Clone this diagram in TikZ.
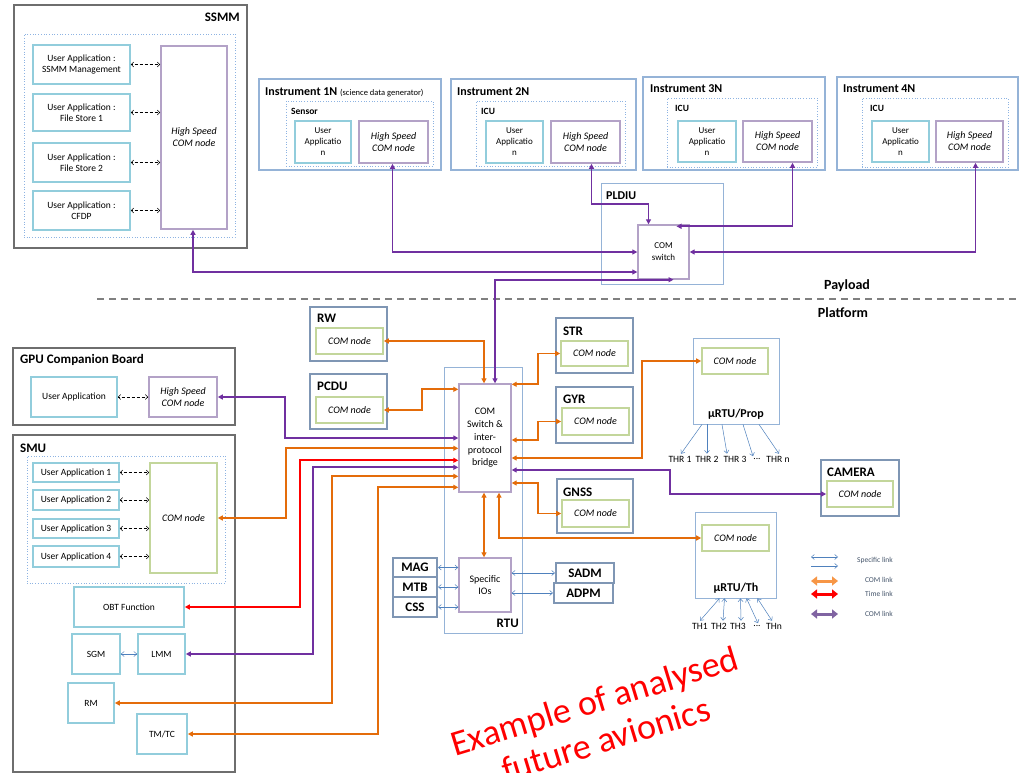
\documentclass[tikz,border=0pt]{standalone}
\usepackage{fontspec}
\setmainfont{Carlito}
\usetikzlibrary{arrows.meta,calc}
\definecolor{cgray}{HTML}{6E6E6E}
\definecolor{ccyan}{HTML}{92CDDC}
\definecolor{cpurp}{HTML}{B3A2C7}
\definecolor{cgreen}{HTML}{C3D69B}
\definecolor{csteel}{HTML}{7F96B4}
\definecolor{clblue}{HTML}{95B3D7}
\definecolor{cdot}{HTML}{8DB3E2}
\definecolor{corange}{HTML}{E46C0A}
\definecolor{cviolet}{HTML}{7030A0}
\definecolor{cspec}{HTML}{4F81BD}
\definecolor{clegtext}{HTML}{44546A}
\definecolor{clegor}{HTML}{F79646}
\definecolor{clegpu}{HTML}{8064A2}
\tikzset{
  rect/.style args={#1,#2,#3,#4}{at={({(#1+#3)/2},{(#2+#4)/2})}, minimum width={(#3-#1)*1pt}, minimum height={(#4-#2)*1pt}, inner sep=0pt},
  box/.style={draw, inner sep=0pt, align=center, font=\fontsize{9.5}{11}\selectfont},
  outerbox/.style={draw=cgray, line width=2.4pt, inner sep=0pt},
  ua/.style={box, draw=ccyan, line width=1.6pt},
  iua/.style={ua, font=\fontsize{9}{11}\selectfont},
  hs/.style={box, draw=cpurp, line width=1.6pt, font=\fontsize{10}{12}\selectfont\itshape},
  cn/.style={box, draw=cgreen, line width=1.6pt, font=\fontsize{10}{12}\selectfont\itshape},
  swbox/.style={box, draw=cpurp, line width=1.4pt, font=\fontsize{10}{12.8}\selectfont},
  unit/.style={draw=csteel, line width=2pt, inner sep=0pt},
  unitt/.style={box, draw=csteel, line width=2pt, font=\fontsize{13}{15}\selectfont\bfseries},
  lbox/.style={draw=clblue, line width=0.8pt, inner sep=0pt},
  ibox/.style={draw=clblue, line width=1.6pt, inner sep=0pt},
  dotbox/.style={draw=cdot, dotted, line width=0.7pt, inner sep=0pt},
  ttl/.style={font=\fontsize{13}{15}\selectfont\bfseries, inner sep=0pt, anchor=west},
  ittl/.style={ttl, font=\fontsize{12}{14}\selectfont\bfseries},
  sttl/.style={ttl, font=\fontsize{9.5}{11}\selectfont\bfseries},
  tip/.tip={Triangle[length=5pt,width=5pt]},
  conn/.style={line width=1.8pt, tip-tip},
  orl/.style={conn, draw=corange},
  pul/.style={conn, draw=cviolet},
  rdl/.style={conn, draw=red},
  spec/.style={draw=cspec, line width=0.5pt, {Straight Barb[length=3pt,width=5pt]}-{Straight Barb[length=3pt,width=5pt]}},
  spec1/.style={draw=cspec, line width=0.5pt, -{Straight Barb[length=3pt,width=5pt]}},
  dda/.style={draw=black, line width=0.5pt, dash pattern=on 2pt off 1.2pt on 0.6pt off 1.2pt, {Straight Barb[length=2.5pt,width=5pt]}-{Straight Barb[length=2.5pt,width=5pt]}},
  lab/.style={inner sep=0pt, font=\fontsize{9.6}{11}\selectfont},
  legt/.style={inner sep=0pt, anchor=east, text=clegtext, font=\fontsize{7.5}{9}\selectfont},
  legl/.style={line width=3pt, {Triangle[length=6pt,width=9pt]}-{Triangle[length=6pt,width=9pt]}}
}
\begin{document}
\begin{tikzpicture}[x=1pt,y=-1pt]
\useasboundingbox (0,0) rectangle (1020,773);
\fill[white] (0,0) rectangle (1020,773);

% ---------- SSMM ----------
\node[outerbox, rect={14,5,247,248}] (ssmm) {};
\node[ttl, anchor=east] (ssmmT) at (240,17) {SSMM};
\node[dotbox, rect={24,34,235,237}] (ssmmD) {};
\node[ua, rect={33,45,130,84}] (sua1) {User Application :\\SSMM Management};
\node[ua, rect={33,94,130,131}] (sua2) {User Application :\\File Store 1};
\node[ua, rect={33,143,130,182}] (sua3) {User Application :\\File Store 2};
\node[ua, rect={33,191,130,230}] (sua4) {User Application :\\CFDP};
\node[hs, rect={161,46,227,229}] (shs) {High Speed\\COM node};
\foreach \i in {1,2,3,4} \draw[dda] (sua\i.east) -- (sua\i.east -| shs.west);

% ---------- Instruments ----------
\node[ibox, rect={259,79,441,170}] (ins1) {};
\node[ittl] (ins1T) at (265,92) {Instrument 1N {\fontsize{8.5}{10}\selectfont\mdseries (science data generator)}};
\node[dotbox, rect={286,101,433,166}] (ins1D) {};
\node[sttl] (ins1S) at (291,111) {Sensor};
\node[iua, rect={295,121,351,163}] (iua1) {User\\Applicatio\\n};
\node[hs, rect={359,121,428,163}] (ihs1) {High Speed\\COM node};

\node[ibox, rect={451,79,636,170}] (ins2) {};
\node[ittl] (ins2T) at (457,92) {Instrument 2N};
\node[dotbox, rect={476,101,625,166}] (ins2D) {};
\node[sttl] (ins2S) at (481,111) {ICU};
\node[iua, rect={486,121,543,163}] (iua2) {User\\Applicatio\\n};
\node[hs, rect={551,121,620,163}] (ihs2) {High Speed\\COM node};

\node[ibox, rect={643,77,825,170}] (ins3) {};
\node[ittl] (ins3T) at (650,89) {Instrument 3N};
\node[dotbox, rect={667,98,817,167}] (ins3D) {};
\node[sttl] (ins3S) at (675,108) {ICU};
\node[iua, rect={678,121,736,162}] (iua3) {User\\Applicatio\\n};
\node[hs, rect={743,121,812,162}] (ihs3) {High Speed\\COM node};

\node[ibox, rect={837,77,1018,170}] (ins4) {};
\node[ittl] (ins4T) at (843,89) {Instrument 4N};
\node[dotbox, rect={862,98,1008,167}] (ins4D) {};
\node[sttl] (ins4S) at (870,108) {ICU};
\node[iua, rect={872,121,929,162}] (iua4) {User\\Applicatio\\n};
\node[hs, rect={936,121,1003,162}] (ihs4) {High Speed\\COM node};

% ---------- PLDIU ----------
\node[lbox, rect={601,183,723,284}] (pldiu) {};
\node[ittl] (pldiuT) at (606,196) {PLDIU};
\node[box, draw=cpurp, line width=1.4pt, font=\fontsize{9}{12}\selectfont, rect={638,225,689,279}] (sw) {COM\\switch};

\draw[pul] ([xshift=-1pt]ihs1.south) |- (sw.west);
\draw[pul] ([xshift=6pt]ihs2.south) -- ++(0,40) -| ([xshift=-15pt]sw.north);
\draw[pul] ([xshift=15pt]ihs3.south) |- ([xshift=13pt,yshift=-2pt]sw.north);
\draw[pul] ([xshift=6pt]ihs4.south) |- (sw.east);
\draw[pul] ([xshift=-1pt]shs.south) |- ([yshift=-20pt]sw.west);

% ---------- divider ----------
\coordinate (dl) at (97,299);
\coordinate (dr) at (1020,299);
\draw[draw=gray, line width=1.6pt, dash pattern=on 7pt off 5pt] (dl) -- (dr);
\node[inner sep=0pt, font=\fontsize{14}{16}\selectfont\bfseries] (payload) at (847,286) {Payload};
\node[inner sep=0pt, font=\fontsize{14}{16}\selectfont\bfseries] (platform) at (843,313) {Platform};

% ---------- RTU ----------
\node[lbox, rect={444,367,522,633}] (rtu) {};
\node[ttl, anchor=east] (rtuT) at (519,623) {RTU};
\node[swbox, rect={459,384,511,492}] (rsw) {COM\\Switch \&\\inter-\\protocol\\bridge};
\node[swbox, rect={459,558,511,612}] (sio) {Specific\\IOs};
\node[unitt, rect={393,558,437,577}] (mag) {MAG};
\node[unitt, rect={393,577,437,597}] (mtb) {MTB};
\node[unitt, rect={393,597,437,617}] (css) {CSS};
\node[unitt, rect={556,563,614,583}] (sadm) {SADM};
\node[unitt, rect={554,583,613,603}] (adpm) {ADPM};
\draw[spec] (mag.east) -- (mag.east -| sio.west);
\draw[spec] (mtb.east) -- (mtb.east -| sio.west);
\draw[spec] (css.east) -- (css.east -| sio.west);
\draw[spec] (sio.east |- sadm.west) -- (sadm.west);
\draw[spec] (sio.east |- adpm.west) -- (adpm.west);

% ---------- RW, PCDU ----------
\node[unit, rect={310,307,387,361}] (rw) {};
\node[ttl] (rwT) at (317,318) {RW};
\node[cn, rect={316,328,383,354}] (rwc) {COM node};
\node[unit, rect={310,374,387,429}] (pcdu) {};
\node[ttl] (pcduT) at (317,386) {PCDU};
\node[cn, rect={316,397,383,423}] (pcc) {COM node};

% ---------- STR, GYR, GNSS ----------
\node[unit, rect={556,318,633,373}] (str) {};
\node[ttl] (strT) at (563,331) {STR};
\node[cn, rect={561,341,628,366}] (strc) {COM node};
\node[unit, rect={556,387,633,443}] (gyr) {};
\node[ttl] (gyrT) at (563,399) {GYR};
\node[cn, rect={562,408,629,435}] (gyrc) {COM node};
\node[unit, rect={557,479,633,533}] (gnss) {};
\node[ttl] (gnssT) at (563,492) {GNSS};
\node[cn, rect={562,500,629,527}] (gnc) {COM node};

% ---------- uRTU/Prop ----------
\node[lbox, rect={693,338,779,424}] (prop) {};
\node[cn, rect={702,348,768,374}] (pcom) {COM node};
\node[inner sep=0pt, font=\fontsize{12}{14}\selectfont\bfseries] (propT) at (736,414) {µRTU/Prop};
\node[lab] (thr1) at (680,459) {THR 1};
\node[lab] (thr2) at (707,459) {THR 2};
\node[lab] (thr3) at (735,459) {THR 3};
\node[lab] (thrd) at (757,459) {...};
\node[lab] (thrn) at (778,459) {THR n};
\draw[spec1] ([xshift=-34pt]prop.south) -- ([xshift=1pt,yshift=2pt]thr1.north);
\draw[spec1] ([xshift=-29pt]prop.south) -- ([yshift=2pt]thr2.north);
\draw[spec1] ([xshift=-14pt]prop.south) -- ([xshift=-8pt,yshift=2pt]thr3.north);
\draw[spec1] ([xshift=7pt]prop.south) -- ([xshift=-4pt,yshift=2pt]thrd.north);
\draw[spec1] ([xshift=23pt]prop.south) -- ([xshift=1pt,yshift=2pt]thrn.north);

% ---------- CAMERA ----------
\node[unit, rect={821,460,899,516}] (cam) {};
\node[ttl] (camT) at (827,472) {CAMERA};
\node[cn, rect={827,481,893,507}] (camc) {COM node};

% ---------- uRTU/Th ----------
\node[lbox, rect={695,512,776,598}] (th) {};
\node[cn, rect={702,525,769,551}] (tcom) {COM node};
\node[inner sep=0pt, font=\fontsize{12}{14}\selectfont\bfseries] (thT) at (736,588) {µRTU/Th};
\node[lab] (th1) at (700,626) {TH1};
\node[lab] (th2) at (719,626) {TH2};
\node[lab] (th3) at (738,626) {TH3};
\node[lab] (thd) at (757,626) {...};
\node[lab] (thn) at (774,626) {THn};
\draw[spec] ([yshift=2pt]th1.north) -- ([xshift=-16pt]th.south);
\draw[spec] ([xshift=4pt,yshift=2pt]th2.north) -- ([xshift=-11pt]th.south);
\draw[spec] ([xshift=3pt,yshift=2pt]th3.north) -- ([xshift=5pt]th.south);
\draw[spec] ([xshift=1pt,yshift=2pt]thd.north) -- ([xshift=11pt]th.south);
\draw[spec] ([xshift=-2pt,yshift=2pt]thn.north) -- ([xshift=22pt]th.south);

% ---------- GPU ----------
\node[outerbox, rect={13,348,235,425}] (gpu) {};
\node[ttl] (gpuT) at (20,360) {GPU Companion Board};
\node[ua, rect={31,377,117,417}] (gua) {User Application};
\node[hs, rect={149,377,217,417}] (ghs) {High Speed\\COM node};
\draw[dda] (gua.east) -- (ghs.west);

% ---------- SMU ----------
\node[outerbox, rect={13,435,235,772}] (smu) {};
\node[ttl] (smuT) at (20,448) {SMU};
\node[dotbox, rect={27,456,225,583}] (smuD) {};
\node[ua, rect={33,463,119,482}] (mua1) {User Application 1};
\node[ua, rect={33,490,119,510}] (mua2) {User Application 2};
\node[ua, rect={33,519,119,538}] (mua3) {User Application 3};
\node[ua, rect={33,546,119,567}] (mua4) {User Application 4};
\node[cn, rect={150,463,217,573}] (scom) {COM node};
\foreach \i in {1,2,3,4} \draw[dda] (mua\i.east) -- (mua\i.east -| scom.west);
\node[ua, rect={74,587,184,627}] (obt) {OBT Function};
\node[ua, rect={72,634,120,674}] (sgm) {SGM};
\node[ua, rect={138,634,185,674}] (lmm) {LMM};
\node[ua, rect={68,683,114,723}] (rm) {RM};
\node[ua, rect={137,714,187,754}] (tmtc) {TM/TC};
\draw[spec] (sgm.east) -- (lmm.west);

% ---------- connectors to RTU switch ----------
\draw[pul] ([xshift=10pt]rsw.north) |- ([xshift=10pt]sw.south);
\draw[orl] (rwc.east) -| ([xshift=-1pt]rsw.north);
\draw[orl] (pcc.east) -- ++(38,0) |- ([yshift=-6pt]rsw.north west);
\draw[pul] (ghs.east) -- ++(67,0) |- (rsw.west);
\draw[orl] (scom.east) -- ++(68,0) |- ([yshift=-65pt]rsw.north west);
\draw[rdl] (obt.east) -- ++(115,0) |- ([yshift=-77pt]rsw.north west);
\draw[pul] (lmm.east) -- ++(127,0) |- ([yshift=-84pt]rsw.north west);
\draw[orl] (rm.east) -- ++(217,0) |- ([yshift=-93pt]rsw.north west);
\draw[orl] (tmtc.east) -- ++(190,0) |- ([yshift=-104pt]rsw.north west);

\draw[orl] ([yshift=-1pt]rsw.north east) -- ++(26,0) |- (strc.west);
\draw[orl] ([yshift=-2pt]rsw.east) -- ++(26,0) |- (gyrc.west);
\draw[orl] ([yshift=-20pt]rsw.east) -- ++(130,0) |- (pcom.west);
\draw[pul] ([yshift=-32pt]rsw.east) -- ++(158,0) |- (camc.west);
\draw[orl] ([yshift=-45pt]rsw.east) -- ++(26,0) |- (gnc.west);
\draw[orl] ([xshift=14pt]rsw.south) |- (tcom.west);
\draw[orl] ([xshift=-1pt]rsw.south) -- ([xshift=-1pt]sio.north);

% ---------- legend ----------
\coordinate (l1a) at (811,557); \coordinate (l1b) at (838,557);
\coordinate (l2a) at (811,566); \coordinate (l2b) at (838,566);
\coordinate (l3a) at (811,581); \coordinate (l3b) at (838,581);
\coordinate (l4a) at (811,594); \coordinate (l4b) at (838,594);
\coordinate (l5a) at (811,614); \coordinate (l5b) at (838,614);
\draw[spec] (l1a) -- (l1b);
\draw[spec1] (l2a) -- (l2b);
\draw[legl, draw=clegor] (l3a) -- (l3b);
\draw[legl, draw=red] (l4a) -- (l4b);
\draw[legl, draw=clegpu] (l5a) -- (l5b);
\node[legt] (lt1) at (893,560) {Specific link};
\node[legt] (lt2) at (893,580) {COM link};
\node[legt] (lt3) at (893,594) {Time link};
\node[legt] (lt4) at (893,614) {COM link};

% ---------- watermark ----------
\node[text=red, rotate=17, inner sep=0pt, align=center, font=\fontsize{36}{40}\selectfont] (ex) at (600,720) {Example of analysed\\future avionics};
\end{tikzpicture}
\end{document}
